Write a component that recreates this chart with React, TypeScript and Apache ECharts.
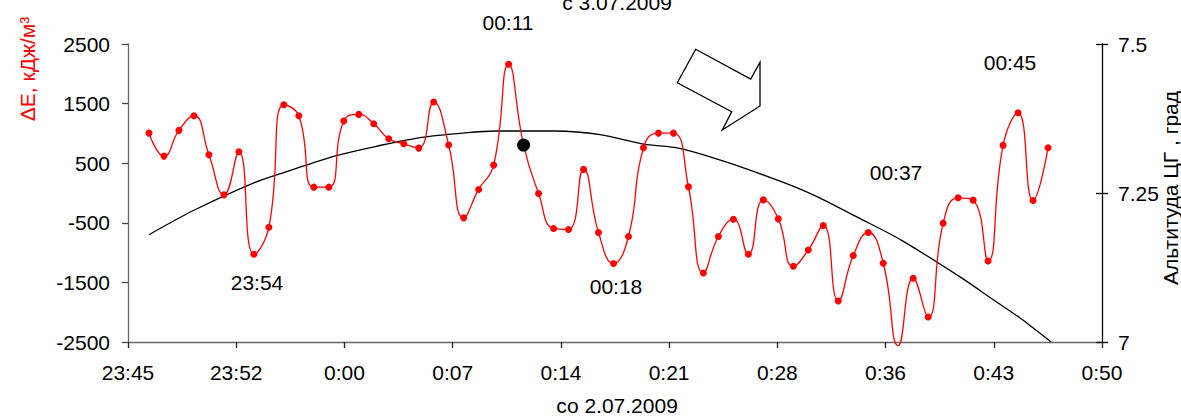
import React, { useEffect, useRef } from "react";
import * as echarts from "echarts";

// X axis: minutes after 23:45, tick labels every 65/9 minutes (Excel style)
const xTickLabels = ["23:45", "23:52", "0:00", "0:07", "0:14", "0:21", "0:28", "0:36", "0:43", "0:50"];
const X_SPAN_MIN = 65;

// Left axis (ΔE) tick labels, bottom to top
const leftTickLabels = ["-2500", "-1500", "-500", "500", "1500", "2500"];
const LEFT_MIN = -2500;
// Right axis (altitude) tick labels
const rightTickLabels = ["7", "7.25", "7.5"];

// ΔE samples, one per minute, first at 23:46:24
const RED_START_MIN = 1.4;
const RED_STEP_MIN = 1;
const deltaE = [
  1005, 619, 1051, 1296, 641, -31, 691, -1027, -574, 1481,
  1296, 98, 98, 1207, 1319, 1161, 909, 826, 753, 1526,
  804, -417, 60, 468, 2159, 804, -8, -595, -612, 396,
  -663, -1183, -730, 758, 1005, 1005, 103, -1341, -730, -439,
  -1027, -115, -434, -1229, -955, -545, -1811, -1049, -663, -1178,
  -2560, -1430, -2080, -506, -81, -120, -1140, 799, 1346, -125,
  758,
];
const hiddenMarkerIndex = [50];

// Altitude of the Galactic Centre (deg)
const altMinutes = [1.4, 4.4, 8.4, 10.6, 12.4, 14.1, 16.5, 19.5, 22.5, 24.6, 28.5, 31.5, 34.4, 36.8, 39.8, 43.6, 45.8, 48.7, 51.6, 55.6, 57.8, 59.6, 61.6];
const altValues = [7.18, 7.221, 7.267, 7.286, 7.301, 7.314, 7.328, 7.343, 7.351, 7.354, 7.354, 7.348, 7.332, 7.325, 7.303, 7.269, 7.246, 7.209, 7.171, 7.108, 7.07, 7.039, 7.0];

// Highlighted moment (black dot)
const dotMinutes = [26.4];
const dotValues = [804];

// Time annotations
const noteTexts = ["23:54", "00:11", "00:18", "00:37", "00:45"];

const FONT = "'Liberation Sans', Arial, sans-serif";

export default function App() {
  const ref = useRef<HTMLDivElement>(null);

  useEffect(() => {
    if (!ref.current) return;
    const chart = echarts.init(ref.current, undefined, { renderer: "svg" });
    const toX = (m: number) => (m * (xTickLabels.length - 1)) / X_SPAN_MIN;
    const toY = (v: number) => v - LEFT_MIN;

    const redData = deltaE.map((v, i) => {
      const item: any = { value: [toX(RED_START_MIN + i * RED_STEP_MIN), toY(v)] };
      if (hiddenMarkerIndex.includes(i)) item.symbolSize = 0;
      return item;
    });
    const altData = altMinutes.map((m, i) => [toX(m), altValues[i]]);
    const dotData = dotMinutes.map((m, i) => [toX(m), toY(dotValues[i])]);

    const notePos = [
      [257, 282],
      [508, 22],
      [616, 286],
      [896, 172],
      [1010, 62],
    ];

    const txt = (text: string, x: number, y: number, extra: any = {}) => ({
      type: "text",
      x,
      y,
      ...extra,
      style: {
        text,
        fill: extra.fill || "#000",
        font: `21px ${FONT}`,
        textAlign: "center",
        textVerticalAlign: "middle",
      },
    });

    chart.setOption({
      animation: false,
      backgroundColor: "#fff",
      textStyle: { fontFamily: FONT },
      grid: { left: 128, right: 79, top: 44, bottom: 77 },
      xAxis: {
        type: "value",
        min: 0,
        max: xTickLabels.length - 1,
        interval: 1,
        splitLine: { show: false },
        axisLine: { lineStyle: { color: "#666", width: 1.3 } },
        axisTick: { length: 6, lineStyle: { color: "#222", width: 1.3 } },
        axisLabel: {
          margin: 20,
          fontSize: 21,
          color: "#000",
          fontFamily: FONT,
          formatter: (v: number) => xTickLabels[Math.round(v)] ?? "",
        },
      },
      yAxis: [
        {
          type: "value",
          position: "left",
          min: 0,
          max: (leftTickLabels.length - 1) * 1000,
          interval: 1000,
          splitLine: { show: false },
          axisLine: { show: true, lineStyle: { color: "#666", width: 1.3 } },
          axisTick: { show: true, length: 6, lineStyle: { color: "#444", width: 1.3 } },
          axisLabel: {
            margin: 18,
            fontSize: 21,
            color: "#000",
            fontFamily: FONT,
            formatter: (v: number) => leftTickLabels[Math.round(v / 1000)] ?? "",
          },
        },
        {
          type: "value",
          position: "right",
          min: 7,
          max: 7.5,
          interval: 0.25,
          splitLine: { show: false },
          axisLine: { show: true, lineStyle: { color: "#000", width: 1.3 } },
          axisTick: { show: true, length: 6, lineStyle: { color: "#000", width: 1.3 } },
          axisLabel: {
            margin: 16,
            fontSize: 21,
            color: "#000",
            fontFamily: FONT,
            formatter: (v: number) => rightTickLabels[Math.round((v - 7) / 0.25)] ?? "",
          },
        },
        {
          type: "value",
          position: "right",
          min: 7,
          max: 7.5,
          interval: 0.25,
          splitLine: { show: false },
          axisLine: { show: false },
          axisTick: { show: true, inside: true, length: 6, lineStyle: { color: "#000", width: 1.3 } },
          axisLabel: { show: false },
        },
      ],
      series: [
        {
          type: "line",
          yAxisIndex: 1,
          data: altData,
          smooth: 0.3,
          showSymbol: false,
          symbol: "none",
          clip: false,
          lineStyle: { color: "#000", width: 1.3 },
          z: 2,
        },
        {
          type: "line",
          yAxisIndex: 0,
          data: redData,
          smooth: 0.5,
          symbol: "circle",
          symbolSize: 7,
          clip: false,
          itemStyle: { color: "#ff0000" },
          lineStyle: { color: "#ff0000", width: 1.3 },
          z: 3,
        },
        {
          type: "scatter",
          yAxisIndex: 0,
          data: dotData,
          symbol: "circle",
          symbolSize: 13,
          itemStyle: { color: "#000", opacity: 1 },
          z: 4,
        },
      ],
      graphic: [
        ...noteTexts.map((t, i) => txt(t, notePos[i][0], notePos[i][1])),
        txt("с 3.07.2009", 617, 2),
        txt("со 2.07.2009", 617, 405),
        txt("ΔE, кДж/м³", 27, 69, { rotation: Math.PI / 2, fill: "#ff0000" }),
        txt("Альтитуда ЦГ , град", 1170, 188, { rotation: Math.PI / 2 }),
        {
          type: "polygon",
          shape: {
            points: [
              [695.7, 49.3],
              [750.7, 79],
              [760, 62.3],
              [760, 106],
              [722.3, 130],
              [731.7, 111.7],
              [677.3, 82.7],
            ],
          },
          style: { fill: "#fff", stroke: "#000", lineWidth: 1.3 },
          z: 10,
        },
      ],
    });

    return () => chart.dispose();
  }, []);

  return (
    <div
      ref={ref}
      style={{ position: "fixed", left: 0, top: 0, width: 1181, height: 419, background: "#fff" }}
    />
  );
}
